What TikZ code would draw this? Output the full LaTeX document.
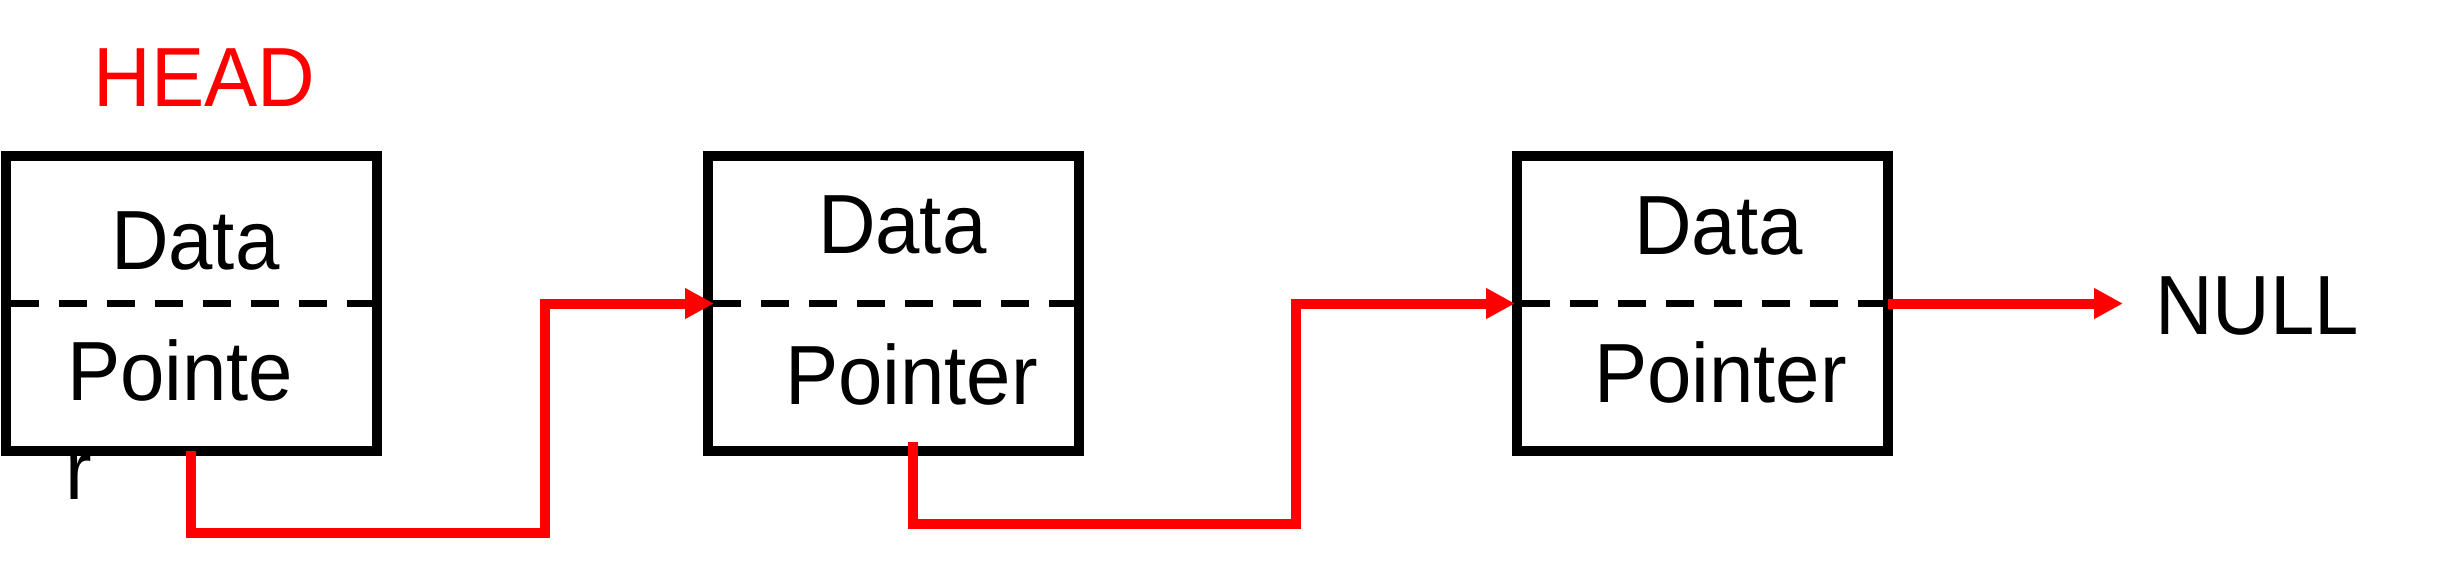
\documentclass[tikz,border=0pt]{standalone}
\usepackage{fontspec}
\setmainfont{Liberation Sans}[FakeStretch=0.95]
\usetikzlibrary{arrows.meta,calc}
\begin{document}
\begin{tikzpicture}[x=0.5pt,y=-0.5pt,
  cell/.style={draw=black,line width=5pt,minimum width=185.5pt,minimum height=147.5pt,outer sep=0pt,inner sep=0pt},
  lbl/.style={anchor=base west,inner sep=0pt,outer sep=0pt,font=\fontsize{42pt}{50pt}\selectfont},
  divider/.style={line width=3.5pt,dash pattern=on 14pt off 10pt},
  link/.style={draw=red,line width=5pt,line join=miter,-{Triangle[length=14.5pt,width=14.5pt]}}
]
\useasboundingbox (0,0) rectangle (2453,568);
% text behind the boxes
\node[lbl] (p1r) at (65.5,499) {r};
% boxes
\node[cell] (b1) at (191,303.5) {};
\node[cell] (b2) at (893.5,303.5) {};
\node[cell] (b3) at (1702.5,303.5) {};
% dividers
\draw[divider] ($(b1.west)+(5,0)$) -- ($(b1.east)+(-5,0)$);
\draw[divider] ($(b2.west)+(5,0)$) -- ($(b2.east)+(-5,0)$);
\draw[divider] ($(b3.west)+(5,0)$) -- ($(b3.east)+(-5,0)$);
% labels
\node[lbl,text=red] (head) at (93.5,106) {HEAD};
\node[lbl] (d1) at (111,269) {Data};
\node[lbl] (p1) at (67,400) {Pointe};
\node[lbl] (d2) at (818,253) {Data};
\node[lbl] (p2) at (785,404) {Pointer};
\node[lbl] (d3) at (1634,254) {Data};
\node[lbl] (p3) at (1594,402) {Pointer};
\node[lbl] (null) at (2155,334) {NULL};
\coordinate (nullend) at (2123,303.5);
% links
\draw[link,shorten >=-3pt] (b1.south) -- ++(0,82) -| ($(b2.west)+(-163,0)$) -- (b2.west);
\draw[link,shorten >=1pt] ($(b2.south)+(19,-9)$) -- ++(0,82) -| ($(b3.west)+(-221,0)$) -- (b3.west);
\draw[link] (b3.east) -- (nullend);
\end{tikzpicture}
\end{document}
